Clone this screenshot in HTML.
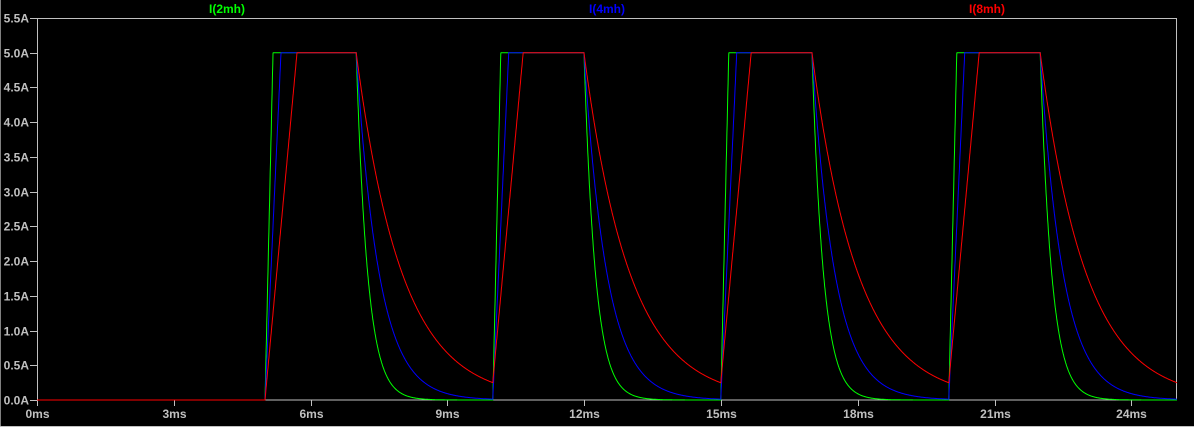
<!DOCTYPE html>
<html><head><meta charset="utf-8"><style>
html,body{margin:0;padding:0;background:#000;}
svg{display:block}
text{font-family:"Liberation Sans",sans-serif;font-weight:bold;font-size:12px}
</style></head><body>
<svg id="s" width="1194" height="427" viewBox="0 0 1194 427" xmlns="http://www.w3.org/2000/svg">
<rect width="1194" height="427" fill="#000"/>
<line x1="0.5" y1="0" x2="0.5" y2="427" stroke="#808080"/>
<line x1="0" y1="426.5" x2="1194" y2="426.5" stroke="#c0c0c0"/>
<rect x="37.5" y="18.5" width="1139" height="381.5" fill="none" stroke="#c0c0c0"/>
<g id="ticks" stroke="#c0c0c0"></g>
<g id="labels" fill="#c0c0c0"></g>
<text x="227" y="13" fill="#00ff00" text-anchor="middle">I(2mh)</text>
<text x="607" y="13" fill="#0000ff" text-anchor="middle">I(4mh)</text>
<text x="987" y="13" fill="#ff0000" text-anchor="middle">I(8mh)</text>
<path id="pg" fill="none" stroke="#00ff00" stroke-width="1"/>
<path id="pb" fill="none" stroke="#0000ff" stroke-width="1"/>
<path id="pr" fill="none" stroke="#ff0000" stroke-width="1"/>
</svg>
<script>
var X0=37,PX=45.6,Y0=400,PY=69.45;
function X(t){return X0+t*PX}function Y(i){return Y0-i*PY}
var tk=document.getElementById('ticks'),lb=document.getElementById('labels'),ns='http://www.w3.org/2000/svg';
for(var k=0;k<=11;k++){var v=k*0.5,y=Math.round(Y(v))+0.5;
var l=document.createElementNS(ns,'line');l.setAttribute('x1',30);l.setAttribute('x2',37);l.setAttribute('y1',y);l.setAttribute('y2',y);tk.appendChild(l);
var t=document.createElementNS(ns,'text');t.setAttribute('x',29);t.setAttribute('y',y+4);t.setAttribute('text-anchor','end');t.textContent=v.toFixed(1)+'A';lb.appendChild(t);}
for(var k=0;k<=8;k++){var x=Math.round(X(k*3))+0.5;
var l=document.createElementNS(ns,'line');l.setAttribute('x1',x);l.setAttribute('x2',x);l.setAttribute('y1',400);l.setAttribute('y2',406);tk.appendChild(l);
var t=document.createElementNS(ns,'text');t.setAttribute('x',x);t.setAttribute('y',418);t.setAttribute('text-anchor','middle');t.textContent=(k*3)+'ms';lb.appendChild(t);}
function series(L){var rate=57/L,tau=L/8,d=[],i=0,dt=0.005;
for(var t=0;t<=25;t+=dt){var ph=t-5*Math.floor(t/5);
if(t<5){i=0;}else if(ph<2){i=Math.min(5,i+rate*dt);}else{i=i*Math.exp(-dt/tau);}
d.push((d.length?'L':'M')+X(t).toFixed(1)+' '+Y(i).toFixed(1));}
return d.join('');}
document.getElementById('pg').setAttribute('d',series(2));
document.getElementById('pb').setAttribute('d',series(4));
document.getElementById('pr').setAttribute('d',series(8));
</script>
</body></html>
